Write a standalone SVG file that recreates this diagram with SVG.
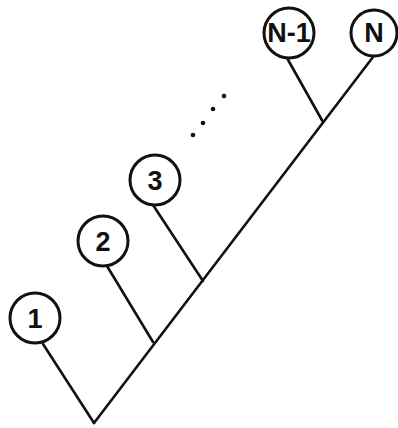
<svg xmlns="http://www.w3.org/2000/svg" width="398" height="428" viewBox="0 0 398 428">
<style>
.c{fill:#fff;stroke:#111;stroke-width:3}
.l{stroke:#111;stroke-width:2.6;fill:none;stroke-linecap:round}
.t{font-family:"Liberation Sans",Arial,sans-serif;font-weight:bold;font-size:27px;text-anchor:middle;fill:#111}
.d{fill:#111}
</style>
<rect width="398" height="428" fill="#fff"/>
<g id="connectors">
<line class="l" x1="94" y1="423" x2="373" y2="57"/>
<line class="l" x1="43" y1="344" x2="94" y2="423"/>
<line class="l" x1="107" y1="266" x2="153" y2="342"/>
<line class="l" x1="153" y1="205" x2="203" y2="281"/>
<line class="l" x1="287" y1="58" x2="323" y2="122"/>
</g>
<g id="node1"><circle class="c" cx="35" cy="318" r="25"/><text class="t" x="35" y="328">1</text></g>
<g id="node2"><circle class="c" cx="103" cy="241" r="25"/><text class="t" x="103" y="251">2</text></g>
<g id="node3"><circle class="c" cx="155" cy="180" r="25"/><text class="t" x="155" y="190">3</text></g>
<g id="nodeN-1"><circle class="c" cx="289" cy="33" r="25"/><text class="t" x="289" y="42" font-size="23">N-1</text></g>
<g id="nodeN"><circle class="c" cx="374" cy="33" r="23"/><text class="t" x="374" y="42">N</text></g>
<g id="dots">
<circle class="d" cx="193" cy="135" r="2.3"/>
<circle class="d" cx="203" cy="123" r="2.3"/>
<circle class="d" cx="213" cy="109" r="2.3"/>
<circle class="d" cx="224" cy="96" r="2.3"/>
</g>
</svg>
